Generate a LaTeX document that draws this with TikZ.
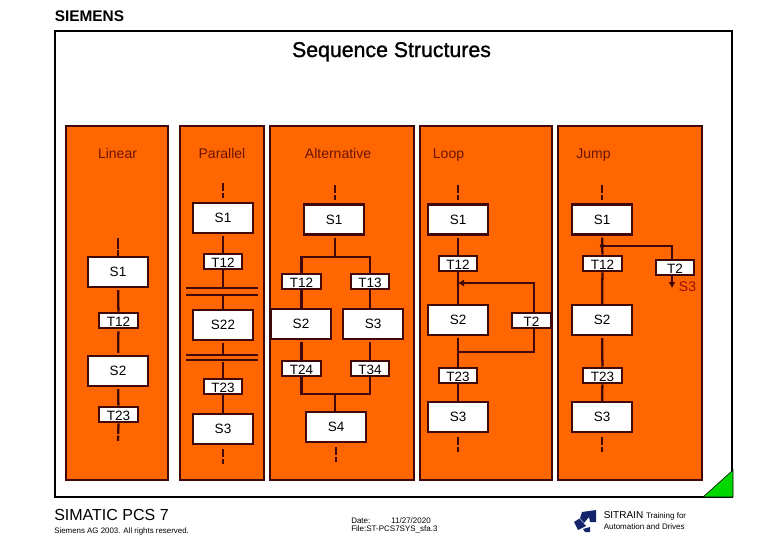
\documentclass[tikz,border=0pt]{standalone}
\usepackage{fontspec}
\setmainfont{Liberation Sans}
\newfontfamily\titlefont[FakeBold=1.2]{Liberation Sans}
\usetikzlibrary{arrows.meta}
\definecolor{panelor}{HTML}{FF6600}
\definecolor{wirec}{HTML}{400808}
\definecolor{labelc}{HTML}{6A1408}
\definecolor{emblemc}{HTML}{14246A}
\definecolor{cornerc}{HTML}{00D800}
\newcommand{\pxs}[1]{\fontsize{\dimexpr#1pt*3/4\relax}{\dimexpr#1pt*9/10\relax}\selectfont}
\tikzset{
  x=0.75pt,y=-0.75pt,
  panel/.style={draw=wirec,fill=panelor,line width=1.7pt},
  stepbox/.style={draw=wirec,fill=white,line width=1.7pt,minimum width=45pt,minimum height=22.5pt,inner sep=0pt,text=black,font=\pxs{13.5}},
  transbox/.style={draw=wirec,fill=white,line width=1.7pt,minimum width=29pt,minimum height=11.5pt,inner sep=0pt,text=black,font=\pxs{13.5},text height=9.5pt,text depth=0pt},
  wire/.style={draw=wirec,line width=1.7pt},
  gapwire/.style={wire,shorten <=1.5pt},
  stub/.style={draw=wirec,line width=1.7pt,dash pattern=on 6.2pt off 1.2pt on 4pt off 30pt},
  longstub/.style={draw=wirec,line width=1.7pt,dash pattern=on 8pt off 1.2pt on 8pt off 30pt},
  head/.style={text=labelc,font=\pxs{14},inner sep=0pt,anchor=base},
  foot/.style={text=black,inner sep=0pt,anchor=west},
}
\begin{document}
\begin{tikzpicture}
\useasboundingbox (0,0) rectangle (780,540);
% frame
\draw[line width=2pt,black] (55,31) rectangle (732,497);
\node[font=\pxs{15.4}\bfseries,inner sep=0pt,anchor=west] (logo) at (54.5,16.5) {SIEMENS};
\node[font=\pxs{21.3},inner sep=0pt,text=black,anchor=base] (title) at (391.5,57) {\titlefont Sequence Structures};
\fill[cornerc,draw=black,line width=.4pt] (703,497) -- (733,470) -- (733,497) -- cycle;
% panels
\draw[panel] (66,126) rectangle (168,480);
\draw[panel] (180,126) rectangle (264,480);
\draw[panel] (270,126) rectangle (414,480);
\draw[panel] (420,126) rectangle (552,480);
\draw[panel] (558,126) rectangle (702,480);
\node[head] (hl) at (117.5,158) {Linear};
\node[head] (hp) at (222,158) {Parallel};
\node[head] (ha) at (338,158) {Alternative};
\node[head] (hj0) at (448.5,158) {Loop};
\node[head] (hj) at (593.5,158) {Jump};
% Linear
\node[stepbox] (l1) at (118,272) {S1};
\node[transbox] (lt12) at (118.5,320.5) {T12};
\node[stepbox] (l2) at (118,371) {S2};
\node[transbox] (lt23) at (118.5,414.5) {T23};
\coordinate (lin0) at (118,238);
\coordinate (lin1) at (118,442);
\draw[longstub] (lin0) -- (l1.north);
\draw[gapwire] (l1) -- (lt12);
\draw[wire,shorten <=1.5pt,shorten >=1.5pt] (lt12) -- (l2);
\draw[gapwire] (l2) -- (lt23);
\draw[stub,dash pattern=on 8pt off 1.2pt on 4pt off 30pt] (lt23.south) -- (lin1);
% Parallel
\node[stepbox] (p1) at (223,218) {S1};
\node[transbox] (pt12) at (223,261.5) {T12};
\node[stepbox] (p22) at (223,325) {S22};
\node[transbox] (pt23) at (223,386.5) {T23};
\node[stepbox] (p3) at (223,429) {S3};
\coordinate (par0) at (223,183);
\coordinate (par1) at (223,464);
\coordinate (ba) at (223,288);
\coordinate (bb) at (223,295);
\coordinate (bc) at (223,355);
\coordinate (bd) at (223,360);
\foreach \b in {ba,bb,bc,bd} \draw[wire] (\b) ++(-37,0) -- ++(72,0);
\draw[stub] (par0) -- (p1.north);
\draw[gapwire] (p1) -- (pt12);
\draw[wire] (pt12) -- (ba);
\draw[wire] (bb) -- (p22);
\draw[gapwire] (p22) -- (bc);
\draw[gapwire] (bd) -- (pt23);
\draw[wire] (pt23) -- (p3);
\draw[stub,shorten <=3pt] (p3.south) -- (par1);
% Alternative
\node[stepbox] (a1) at (334,219.5) {S1};
\node[transbox] (at12) at (301.5,281.5) {T12};
\node[transbox] (at13) at (370,281.5) {T13};
\node[stepbox] (a2) at (301,324) {S2};
\node[stepbox] (a3) at (373,324) {S3};
\node[transbox] (at24) at (301.5,368.5) {T24};
\node[transbox] (at34) at (370,368.5) {T34};
\node[stepbox] (a4) at (336,427) {S4};
\coordinate (alt0) at (335,185);
\coordinate (alt1) at (336,462);
\coordinate (asplit) at (335,257);
\coordinate (ajoin) at (335,394);
\draw[stub] (alt0) -- (alt0 |- a1.north);
\draw[gapwire] (a1.south -| asplit) -- (asplit);
\draw[wire] (asplit) -| (at12.north);
\draw[wire] (asplit) -| (at13.north);
\draw[wire] (at12.south) -- (at12.south |- a2.north);
\draw[wire] (at13.south) -- (at13.south |- a3.north);
\draw[gapwire] (at12.south |- a2.south) -- (at24.north);
\draw[gapwire] (at13.south |- a3.south) -- (at34.north);
\draw[wire] (at24.south) |- (ajoin);
\draw[wire] (at34.south) |- (ajoin);
\draw[wire] (ajoin) -- (ajoin |- a4.north);
\draw[stub,shorten <=3pt] (a4.south -| alt1) -- (alt1);
% Loop
\node[stepbox] (o1) at (458,219.5) {S1};
\node[transbox] (ot12) at (458,263.5) {T12};
\node[stepbox] (o2) at (458,320) {S2};
\node[transbox] (ot23) at (458,375.5) {T23};
\node[stepbox] (o3) at (458,417) {S3};
\coordinate (loo0) at (458,185);
\coordinate (loo1) at (458,453);
\coordinate (lback) at (458,352);
\coordinate (lret) at (458,283);
\coordinate (lc1) at (534,352);
\coordinate (lc2) at (534,283);
\draw[stub] (loo0) -- (o1.north);
\draw[gapwire] (o1) -- (ot12);
\draw[wire] (ot12) -- (o2);
\draw[gapwire] (o2) -- (ot23);
\draw[wire] (ot23) -- (o3);
\draw[stub,shorten <=3pt] (o3.south) -- (loo1);
\draw[wire,-{Latex[length=4.5pt,width=5.5pt]}] (lback) -- (lc1) -- (lc2) -- (lret);
\node[transbox] (ot2) at (531.5,320.5) {T2};
% Jump
\node[stepbox] (j1) at (602,219.5) {S1};
\node[transbox] (jt12) at (602.5,263.5) {T12};
\node[stepbox] (j2) at (602,320) {S2};
\node[transbox] (jt23) at (602.5,375.5) {T23};
\node[stepbox] (j3) at (602,417) {S3};
\node[transbox] (jt2) at (675,267.5) {T2};
\coordinate (jmp0) at (602,185);
\coordinate (jmp1) at (602,453);
\coordinate (jsplit) at (602,246);
\coordinate (jend) at (672,288);
\draw[stub] (jmp0) -- (j1.north);
\draw[gapwire] (j1) -- (jt12);
\draw[wire] (jt12) -- (j2);
\draw[gapwire] (j2) -- (jt23);
\draw[wire] (jt23) -- (j3);
\draw[stub,shorten <=3pt] (j3.south) -- (jmp1);
\fill[wirec] (jsplit) circle (1.6pt);
\draw[wire] (jsplit) -| (jend |- jt2.north);
\draw[wire,-{Latex[length=4.5pt,width=5.5pt]}] (jend |- jt2.south) -- (jend);
\node[text=labelc!70!red,font=\pxs{14},inner sep=0pt] (js3) at (687.5,287) {S3};
% footer
\node[foot,font=\pxs{16}] (f1) at (54,515) {SIMATIC PCS 7};
\node[foot,font=\pxs{7.9}] (f2) at (54,531) {Siemens AG 2003. All rights reserved.};
\node[foot,font=\pxs{8}] (f3) at (351,520.5) {Date:};
\node[foot,font=\pxs{8}] (f4) at (391,520.5) {11/27/2020};
\node[foot,font=\pxs{8}] (f5) at (351,529) {File:ST-PCS7SYS\_sfa.3};
\node[foot,font=\pxs{10}] (f6) at (603.5,515.5) {SITRAIN {\pxs{8}Training for}};
\node[foot,font=\pxs{8}] (f7) at (603.5,526.5) {Automation and Drives};
% SITRAIN emblem
\fill[emblemc] (582,512) -- (596,510) -- (596,522) -- (590,522) -- (589,517) -- (584,523) -- (580,518) -- cycle;
\fill[emblemc] (574,522) -- (579.5,518.5) -- (586,526) -- (578,530) -- cycle;
\fill[emblemc] (583,529) -- (590,527) -- (590,532) -- (585,532) -- cycle;
\end{tikzpicture}
\end{document}
